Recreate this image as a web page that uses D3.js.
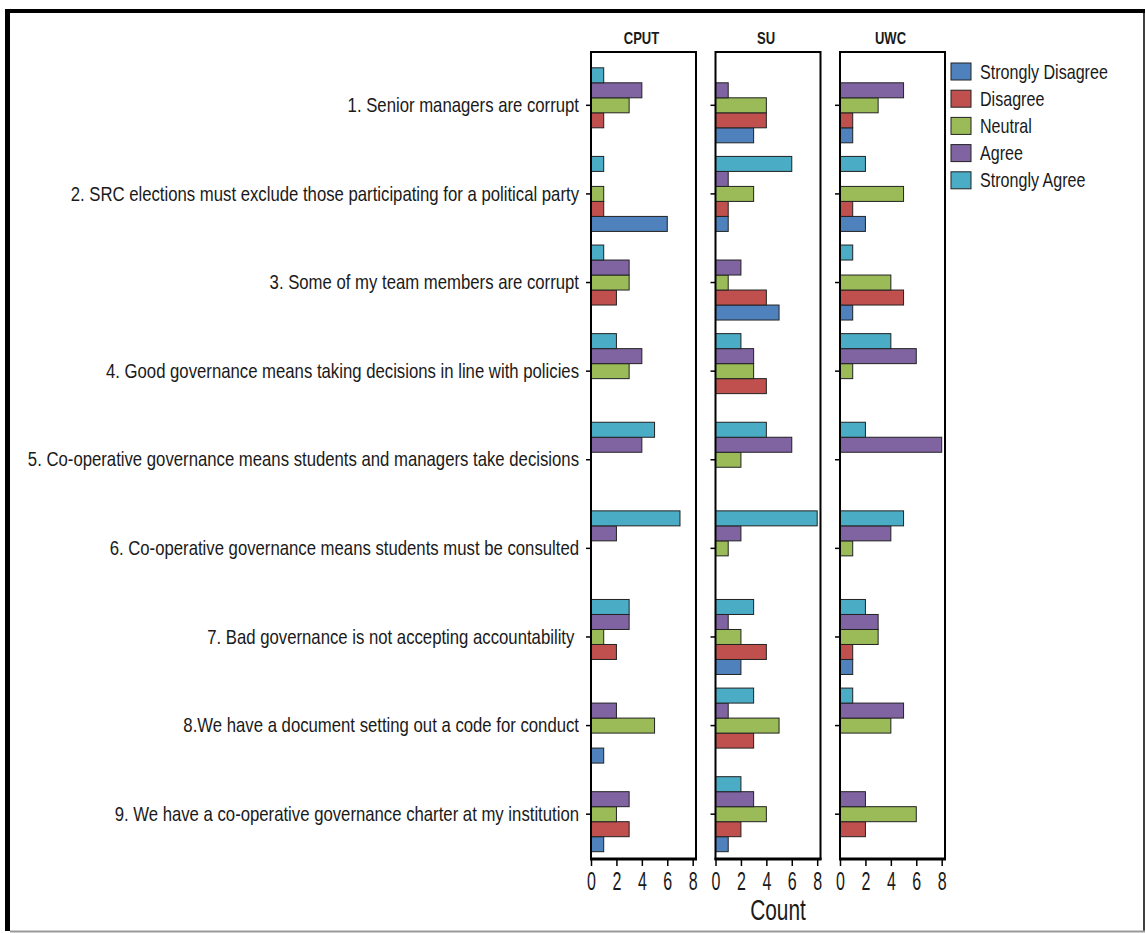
<!DOCTYPE html>
<html>
<head>
<meta charset="utf-8">
<script src="https://cdn.jsdelivr.net/npm/d3@7"></script>
<style>
  html, body { margin: 0; padding: 0; background: #fff; }
  svg { display: block; }
  .lbl { font-family: "Liberation Sans", Arial, sans-serif; fill: #1a1a1a; }
</style>
</head>
<body>
<svg id="chart" width="1145" height="933"></svg>
<script>
// Response categories (legend order) and their fill colours
const categories = ["Strongly Disagree", "Disagree", "Neutral", "Agree", "Strongly Agree"];
const colors = ["#4F81BD", "#C0504D", "#9BBB59", "#8064A2", "#4BACC6"];

// Survey statements
const statements = [
  "1. Senior managers are corrupt",
  "2. SRC elections must exclude those participating for a political party",
  "3. Some of my team members are corrupt",
  "4. Good governance means taking decisions in line with policies",
  "5. Co-operative governance means students and managers take decisions",
  "6. Co-operative governance means students must be consulted",
  "7. Bad governance is not accepting accountability\u00a0",
  "8.We have a document setting out a code for conduct",
  "9. We have a co-operative governance charter at my institution"
];

const institutions = ["CPUT", "SU", "UWC"];

// Counts per statement: [Strongly Disagree, Disagree, Neutral, Agree, Strongly Agree]
const cputCounts = [
  [0, 1, 3, 4, 1],
  [6, 1, 1, 0, 1],
  [0, 2, 3, 3, 1],
  [0, 0, 3, 4, 2],
  [0, 0, 0, 4, 5],
  [0, 0, 0, 2, 7],
  [0, 2, 1, 3, 3],
  [1, 0, 5, 2, 0],
  [1, 3, 2, 3, 0]
];
const suCounts = [
  [3, 4, 4, 1, 0],
  [1, 1, 3, 1, 6],
  [5, 4, 1, 2, 0],
  [0, 4, 3, 3, 2],
  [0, 0, 2, 6, 4],
  [0, 0, 1, 2, 8],
  [2, 4, 2, 1, 3],
  [0, 3, 5, 1, 3],
  [1, 2, 4, 3, 2]
];
const uwcCounts = [
  [1, 1, 3, 5, 0],
  [2, 1, 5, 0, 2],
  [1, 5, 4, 0, 1],
  [0, 0, 1, 6, 4],
  [0, 0, 0, 8, 2],
  [0, 0, 1, 4, 5],
  [1, 1, 3, 3, 2],
  [0, 0, 4, 5, 1],
  [0, 2, 6, 2, 0]
];
const countTicks = [0, 2, 4, 6, 8];

const panelCounts = [cputCounts, suCounts, uwcCounts];

const svg = d3.select("#chart");

// Condense text horizontally (narrow typeface look) while keeping its anchor x
function narrow(sel, sx) {
  sel.each(function () {
    const t = d3.select(this);
    const x0 = +t.attr("x") || 0;
    t.attr("x", x0 / sx).attr("transform", `scale(${sx},1)`);
  });
}

// Outer frame
svg.append("rect").attr("x", 5).attr("y", 9).attr("width", 1145).attr("height", 4).attr("fill", "#000");
svg.append("rect").attr("x", 5).attr("y", 9).attr("width", 5).attr("height", 922).attr("fill", "#000");
svg.append("line").attr("x1", 1144).attr("x2", 1144).attr("y1", 13).attr("y2", 931).attr("stroke", "#000").attr("stroke-width", 1.5);
svg.append("line").attr("x1", 10).attr("x2", 1145).attr("y1", 931.5).attr("y2", 931.5).attr("stroke", "#999").attr("stroke-width", 2);

// Panel geometry
const panelTop = 52, panelBottom = 859, panelW = 105, panelGap = 19.5;
const panelX = d3.scaleBand().domain(institutions)
  .range([591, 591 + 3 * panelW + 2 * panelGap])
  .paddingInner(panelGap / (panelW + panelGap));

const y = d3.scaleBand().domain(statements).range([61, 858.5]).paddingInner(0).paddingOuter(0);
const barH = 15;
// Bars run from Strongly Agree (top) down to Strongly Disagree, centred on each statement
const ySub = d3.scaleBand().domain(categories.slice().reverse())
  .range([y.bandwidth() / 2 - 2.5 * barH, y.bandwidth() / 2 + 2.5 * barH]);
const color = d3.scaleOrdinal().domain(categories).range(colors);

const x = d3.scaleLinear().domain([0, 8.26]).range([0, panelW]);

institutions.forEach((inst, pi) => {
  const g = svg.append("g").attr("transform", `translate(${panelX(inst)},0)`);
  const counts = panelCounts[pi];

  // Panel title
  g.append("text").attr("class", "lbl")
    .attr("x", panelW / 2 - 2).attr("y", 44)
    .attr("text-anchor", "middle")
    .style("font-size", "16.5px").style("font-weight", "bold")
    .text(inst)
    .call(narrow, 0.79);

  // Bars
  const rows = statements.map((s, i) => ({ s, vals: categories.map((c, k) => ({ c, v: counts[i][k] })) }));
  const grp = g.selectAll("g.stmt").data(rows).join("g")
    .attr("class", "stmt")
    .attr("transform", d => `translate(0,${y(d.s)})`);
  grp.selectAll("rect").data(d => d.vals.filter(e => e.v > 0)).join("rect")
    .attr("x", 0)
    .attr("y", e => ySub(e.c))
    .attr("width", e => x(e.v))
    .attr("height", ySub.bandwidth())
    .attr("fill", e => color(e.c))
    .attr("stroke", "#222")
    .attr("stroke-width", 1);

  // Left axis ticks (statement labels only beside the first panel)
  const yAxis = d3.axisLeft(y).tickSize(5).tickPadding(7);
  if (pi > 0) yAxis.tickFormat("");
  const ya = g.append("g").call(yAxis);
  ya.select(".domain").remove();
  ya.selectAll(".tick line").attr("stroke", "#000").attr("stroke-width", 1.5);
  ya.selectAll(".tick text").attr("class", "lbl").attr("fill", "#1a1a1a")
    .style("font-size", "21px")
    .call(narrow, 0.797);

  // Bottom axis
  const xa = g.append("g").attr("transform", `translate(0,${panelBottom})`)
    .call(d3.axisBottom(x).tickValues(countTicks).tickSize(7).tickPadding(6));
  xa.select(".domain").remove();
  xa.selectAll(".tick line").attr("stroke", "#000").attr("stroke-width", 1.5);
  xa.selectAll(".tick text").attr("class", "lbl").attr("fill", "#1a1a1a")
    .style("font-size", "25px")
    .call(narrow, 0.64);

  // Panel frame
  g.append("rect").attr("x", 0).attr("y", panelTop)
    .attr("width", panelW).attr("height", panelBottom - panelTop)
    .attr("fill", "none").attr("stroke", "#000").attr("stroke-width", 2);
  g.append("line").attr("x1", -1).attr("x2", panelW + 1)
    .attr("y1", panelBottom).attr("y2", panelBottom)
    .attr("stroke", "#000").attr("stroke-width", 3);
});

// Axis title
svg.append("text").attr("class", "lbl")
  .attr("x", 778).attr("y", 920)
  .attr("text-anchor", "middle")
  .style("font-size", "29px")
  .text("Count")
  .call(narrow, 0.72);

// Legend
const legendY = d3.scalePoint().domain(categories).range([71.5, 180.3]);
const lg = svg.append("g").attr("transform", "translate(951,0)");
const li = lg.selectAll("g").data(categories).join("g")
  .attr("transform", d => `translate(0,${legendY(d)})`);
li.append("rect").attr("x", 0).attr("y", -8.5).attr("width", 20).attr("height", 17)
  .attr("fill", d => color(d)).attr("stroke", "#222").attr("stroke-width", 1);
li.append("text").attr("class", "lbl")
  .attr("x", 29).attr("y", 0).attr("dy", "0.35em")
  .style("font-size", "20px")
  .text(d => d)
  .call(narrow, 0.805);
</script>
</body>
</html>
